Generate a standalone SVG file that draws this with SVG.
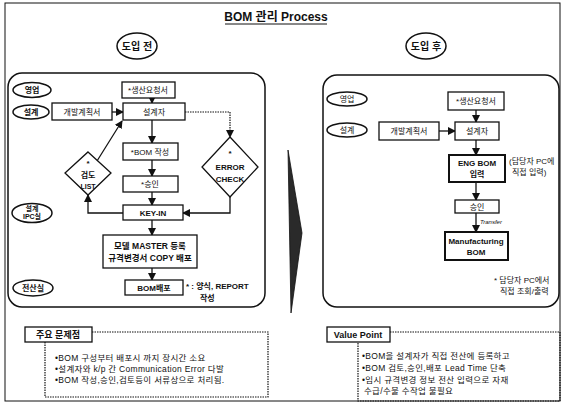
<svg xmlns="http://www.w3.org/2000/svg" width="565" height="404" viewBox="0 0 565 404">
<style>
text{font-family:"Liberation Sans","Noto Sans CJK KR",sans-serif;fill:#111}
.t8{font-size:8px}
.b{font-weight:bold}
.box{fill:#fff;stroke:#111;stroke-width:1.3}
.bold{fill:#fff;stroke:#111;stroke-width:2}
.ell{fill:#fff;stroke:#111;stroke-width:1.5}
.panel{fill:none;stroke:#111;stroke-width:1.5}
.con{fill:none;stroke:#111;stroke-width:1.3}
.dot{fill:none;stroke:#111;stroke-width:1.2;stroke-dasharray:1.5 1}
.sm{font-size:8.5px;letter-spacing:0.3px}
</style>
<defs>
<marker id="ah" markerUnits="userSpaceOnUse" markerWidth="8" markerHeight="8" refX="7" refY="4" orient="auto">
<path d="M0,0 L8,4 L0,8 z" fill="#111"/>
</marker>
</defs>
<rect x="5" y="3" width="555" height="398" fill="none" stroke="#111" stroke-width="1"/>
<g id="title">
<text x="276" y="21" text-anchor="middle" class="b" font-size="12">BOM 관리 Process</text>
<line x1="225" y1="24" x2="327" y2="24" stroke="#111" stroke-width="1"/>
</g>
<g id="before-label"><ellipse cx="137" cy="46" rx="20" ry="13" class="ell"/><text x="137" y="50" text-anchor="middle" class="b" font-size="10">도입 전</text></g>
<g id="after-label"><ellipse cx="426" cy="46" rx="20" ry="13" class="ell"/><text x="426" y="50" text-anchor="middle" class="b" font-size="10">도입 후</text></g>
<rect id="left-panel" x="8" y="73" width="257" height="234" rx="14" class="panel"/>
<rect id="right-panel" x="323" y="75" width="236" height="232" rx="14" class="panel"/>
<polygon id="big-arrow" points="288,150 302,233 291,313" fill="#2a2a2a" stroke="#111" stroke-width="0.8"/>
<g id="connectors">
<line x1="152" y1="98" x2="152" y2="103" class="con" marker-end="url(#ah)"/>
<line x1="112" y1="112" x2="123" y2="112" class="con" marker-end="url(#ah)"/>
<line x1="152" y1="120" x2="152" y2="143" class="con" marker-end="url(#ah)"/>
<line x1="152" y1="160" x2="152" y2="176" class="con" marker-end="url(#ah)"/>
<line x1="152" y1="192" x2="152" y2="205" class="con" marker-end="url(#ah)"/>
<line x1="152" y1="220" x2="152" y2="235" class="con" marker-end="url(#ah)"/>
<line x1="152" y1="268" x2="152" y2="280" class="con" marker-end="url(#ah)"/>
<polyline points="185,112 230,112 230,137" class="dot" marker-end="url(#ah)"/>
<polyline points="230,197 230,213 183,213" class="con" marker-end="url(#ah)"/>
<polyline points="123,213 88,213 88,195" class="con" marker-end="url(#ah)"/>
<line x1="97" y1="161" x2="122" y2="121" class="con" marker-end="url(#ah)"/>
<line x1="476" y1="110" x2="476" y2="122" class="con" marker-end="url(#ah)"/>
<line x1="439" y1="131" x2="455" y2="131" class="con" marker-end="url(#ah)"/>
<line x1="476" y1="140" x2="476" y2="155" class="con" marker-end="url(#ah)"/>
<line x1="476" y1="182" x2="476" y2="200" class="con" marker-end="url(#ah)"/>
<line x1="476" y1="213" x2="476" y2="232" class="con" marker-end="url(#ah)"/>
<text x="480" y="224" style="font-size:6px;font-style:italic">Transfer</text>
</g>
<g id="l-sales"><ellipse cx="32" cy="90" rx="19" ry="7.5" class="ell"/><text x="32" y="93" text-anchor="middle" class="t8 b">영업</text></g>
<g id="l-design"><ellipse cx="31" cy="112" rx="18" ry="7" class="ell"/><text x="31" y="115" text-anchor="middle" class="t8 b">설계</text></g>
<g id="l-ipc"><ellipse cx="32" cy="213" rx="20" ry="9.5" class="ell"/><text x="32" y="211" text-anchor="middle" class="b" font-size="7">설계</text><text x="32" y="219" text-anchor="middle" class="b" font-size="7">IPC실</text></g>
<g id="l-it"><ellipse cx="33" cy="288" rx="20" ry="8" class="ell"/><text x="33" y="291" text-anchor="middle" class="t8 b">전산실</text></g>
<g id="l-request"><rect x="122" y="82" width="53" height="16" class="box"/><text x="148" y="93" text-anchor="middle" class="t8">*생산요청서</text></g>
<g id="l-plan"><rect x="52" y="103" width="60" height="17" class="box"/><text x="82" y="115" text-anchor="middle" class="t8">개발계획서</text></g>
<g id="l-designer"><rect x="123" y="103" width="62" height="17" class="box"/><text x="154" y="115" text-anchor="middle" class="t8">설계자</text></g>
<g id="l-bom"><rect x="123" y="143" width="55" height="17" class="box"/><text x="150" y="155" text-anchor="middle" class="t8">*BOM 작성</text></g>
<g id="l-approve"><rect x="123" y="176" width="55" height="16" class="box"/><text x="150" y="187" text-anchor="middle" class="t8">*승인</text></g>
<g id="l-keyin"><rect x="123" y="205" width="60" height="15" class="box"/><text x="153" y="216" text-anchor="middle" class="t8 b">KEY-IN</text></g>
<g id="l-master"><rect x="103" y="235" width="94" height="33" class="box"/><text x="150" y="249" text-anchor="middle" class="b" font-size="8.5">모델 MASTER 등록</text><text x="150" y="261" text-anchor="middle" class="b" font-size="8.5">규격변경서 COPY 배포</text></g>
<g id="l-dist"><rect x="125" y="280" width="58" height="15" class="box"/><text x="154" y="291" text-anchor="middle" class="t8 b">BOM배포</text></g>
<g id="l-note"><text x="186" y="289" class="t8 b">* : 양식, REPORT</text><text x="200" y="301" class="t8 b">작성</text></g>
<g id="l-review"><polygon points="88,152 111,173 88,195 65,173" class="box"/><text x="88" y="166" text-anchor="middle" class="t8 b">*</text><text x="88" y="178" text-anchor="middle" class="t8 b">검도</text><text x="88" y="189" text-anchor="middle" font-size="7" class="b">LIST</text></g>
<g id="l-error"><polygon points="230,137 258,167 230,197 202,167" class="box"/><text x="230" y="156" text-anchor="middle" class="t8 b">*</text><text x="230" y="170" text-anchor="middle" class="t8 b">ERROR</text><text x="230" y="182" text-anchor="middle" class="t8 b">CHECK</text></g>
<g id="r-sales"><ellipse cx="347" cy="99" rx="20" ry="7" class="ell"/><text x="347" y="102" text-anchor="middle" class="t8">영업</text></g>
<g id="r-design"><ellipse cx="347" cy="130" rx="20" ry="7" class="ell"/><text x="347" y="133" text-anchor="middle" class="t8">설계</text></g>
<g id="r-request"><rect x="448" y="92" width="56" height="18" class="box"/><text x="476" y="104" text-anchor="middle" class="t8">*생산요청서</text></g>
<g id="r-plan"><rect x="379" y="122" width="60" height="18" class="box"/><text x="409" y="134" text-anchor="middle" class="t8">개발계획서</text></g>
<g id="r-designer"><rect x="455" y="122" width="44" height="18" class="box"/><text x="477" y="134" text-anchor="middle" class="t8">설계자</text></g>
<g id="r-eng"><rect x="449" y="155" width="56" height="27" class="bold"/><text x="477" y="166" text-anchor="middle" class="t8 b">ENG BOM</text><text x="477" y="177" text-anchor="middle" class="t8 b">입력</text></g>
<g id="r-eng-note"><text x="509" y="164" class="t8">(담당자 PC에</text><text x="512" y="175" class="t8">직접 입력)</text></g>
<g id="r-approve"><rect x="455" y="200" width="44" height="13" class="box"/><text x="477" y="210" text-anchor="middle" class="t8">승인</text></g>
<g id="r-mbom"><rect x="445" y="232" width="63" height="28" class="bold"/><text x="476" y="244" text-anchor="middle" class="t8 b">Manufacturing</text><text x="476" y="255" text-anchor="middle" class="t8 b">BOM</text></g>
<g id="r-note"><text x="494" y="283" class="t8">* 담당자 PC에서</text><text x="500" y="294" class="t8">직접 조회/출력</text></g>
<g id="problems">
<polyline points="92,332 268,332 268,397 45,397 45,342" class="dot"/>
<rect x="25" y="327" width="67" height="15" class="box"/>
<text x="58" y="338" text-anchor="middle" class="b" font-size="9">주요 문제점</text>
<text x="55" y="361" class="sm">•BOM 구성부터 배포시 까지 장시간 소요</text>
<text x="55" y="372" class="sm">•설계자와 k/p 간 Communication Error 다발</text>
<text x="55" y="383" class="sm">•BOM 작성,승인,검토등이 서류상으로 처리됨.</text>
</g>
<g id="value">
<polyline points="390,332 560,332 560,401 358,401 358,342" class="dot"/>
<rect x="327" y="327" width="63" height="15" class="box"/>
<text x="358" y="338" text-anchor="middle" class="b" font-size="9">Value Point</text>
<text x="362" y="359" class="sm">•BOM을 설계자가 직접 전산에 등록하고</text>
<text x="362" y="371" class="sm">•BOM 검토,승인,배포 Lead Time 단축</text>
<text x="362" y="383" class="sm">•임시 규격변경 정보 전산 입력으로 자재</text>
<text x="364" y="394" class="sm">수급/수불 수작업 불필요</text>
</g>
</svg>
